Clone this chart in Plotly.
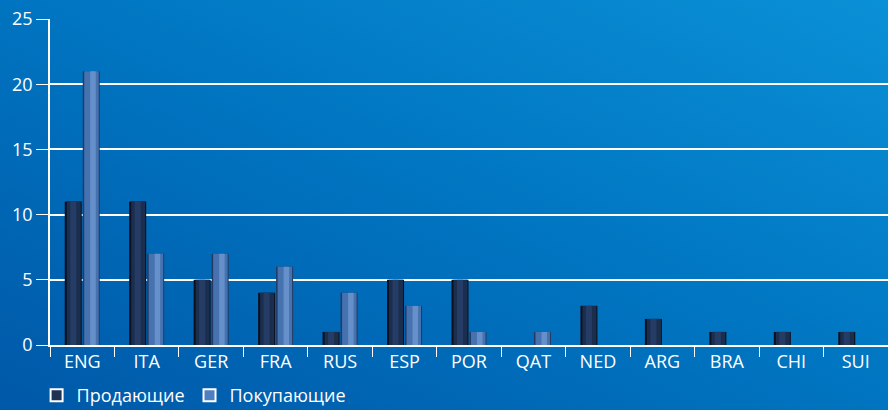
import plotly.graph_objects as go
import base64

categories = ["ENG", "ITA", "GER", "FRA", "RUS", "ESP", "POR", "QAT", "NED", "ARG", "BRA", "CHI", "SUI"]
sellers = [11, 11, 5, 4, 1, 5, 5, 0, 3, 2, 1, 1, 1]
buyers = [21, 7, 7, 6, 4, 3, 1, 1, 0, 0, 0, 0, 0]
series_names = ["Продающие", "Покупающие"]
y_ticks = [0, 5, 10, 15, 20, 25]

dark = "#1e3254"
light = "#4f7fc0"

svg = """<svg xmlns='http://www.w3.org/2000/svg' width='888' height='410' preserveAspectRatio='none'>
<defs><linearGradient id='g' x1='0' y1='1' x2='1' y2='0'>
<stop offset='0' stop-color='#0058a8'/>
<stop offset='0.5' stop-color='#0074c0'/>
<stop offset='1' stop-color='#0a90d6'/>
</linearGradient></defs>
<rect width='888' height='410' fill='url(#g)'/></svg>"""
bg_uri = "data:image/svg+xml;base64," + base64.b64encode(svg.encode()).decode()

L, R, T, B = 50, 0, 19, 65
pw = 888 - L - R
ph = 410 - T - B
unit = pw / len(categories)  # px per category

def px(v):
    return v / unit

# layered bars to give a cylindrical look: (left px, right px, color)
layers = {
    0: [(-17.5, -0.5, "#08101f"), (-15.5, -1.5, "#1c2e4e"), (-12, -6, "#253d66")],
    1: [(0.5, 17.5, "#223a64"), (2.0, 16.5, "#4672b0"), (8, 13.5, "#6590ca")],
}
series_vals = [sellers, buyers]

fig = go.Figure()
for s, vals in enumerate(series_vals):
    for (a, b, col) in layers[s]:
        fig.add_trace(go.Bar(x=categories, y=vals, name=series_names[s], offset=px(a), width=px(b - a),
                             marker=dict(color=col, line=dict(width=0)), showlegend=False, hoverinfo="skip"))
for nm, col in zip(series_names, [dark, light]):
    fig.add_trace(go.Scatter(x=[None], y=[None], mode="markers", name=nm,
                             marker=dict(symbol="square", size=13, color=col, line=dict(color="white", width=1.5))))

fig.add_layout_image(dict(source=bg_uri, xref="paper", yref="paper",
                          x=-L / pw, y=1 + T / ph, sizex=888 / pw, sizey=410 / ph,
                          xanchor="left", yanchor="top", sizing="stretch", layer="below"))

fig.update_layout(
    width=888, height=410,
    margin=dict(l=L, r=R, t=T, b=B, autoexpand=False),
    paper_bgcolor="#0070bc", plot_bgcolor="rgba(0,0,0,0)",
    barmode="overlay",
    font=dict(family="Open Sans", color="white", size=18),
    legend=dict(orientation="h", x=-0.016, y=-0.098, xanchor="left", yanchor="top",
                font=dict(size=18, color="white"), itemsizing="constant",
                bgcolor="rgba(0,0,0,0)", tracegroupgap=0, itemwidth=30),
    xaxis=dict(showgrid=False, showline=True, linecolor="white", linewidth=1.5,
               ticks="outside", tickson="boundaries", ticklen=10, tickcolor="white",
               tickfont=dict(size=18, color="white"), fixedrange=True, automargin=False),
    yaxis=dict(range=[0, 25], tickvals=y_ticks, showgrid=True, gridcolor="white", gridwidth=1.5,
               showline=True, linecolor="white", linewidth=1.5, zeroline=False,
               ticks="outside", ticklen=12, tickcolor="white",
               tickfont=dict(size=18, color="white"), fixedrange=True, automargin=False),
)
fig.write_html("out.html", config={"displayModeBar": False},
               post_script="document.body.style.margin='0';document.body.style.overflow='hidden';")
